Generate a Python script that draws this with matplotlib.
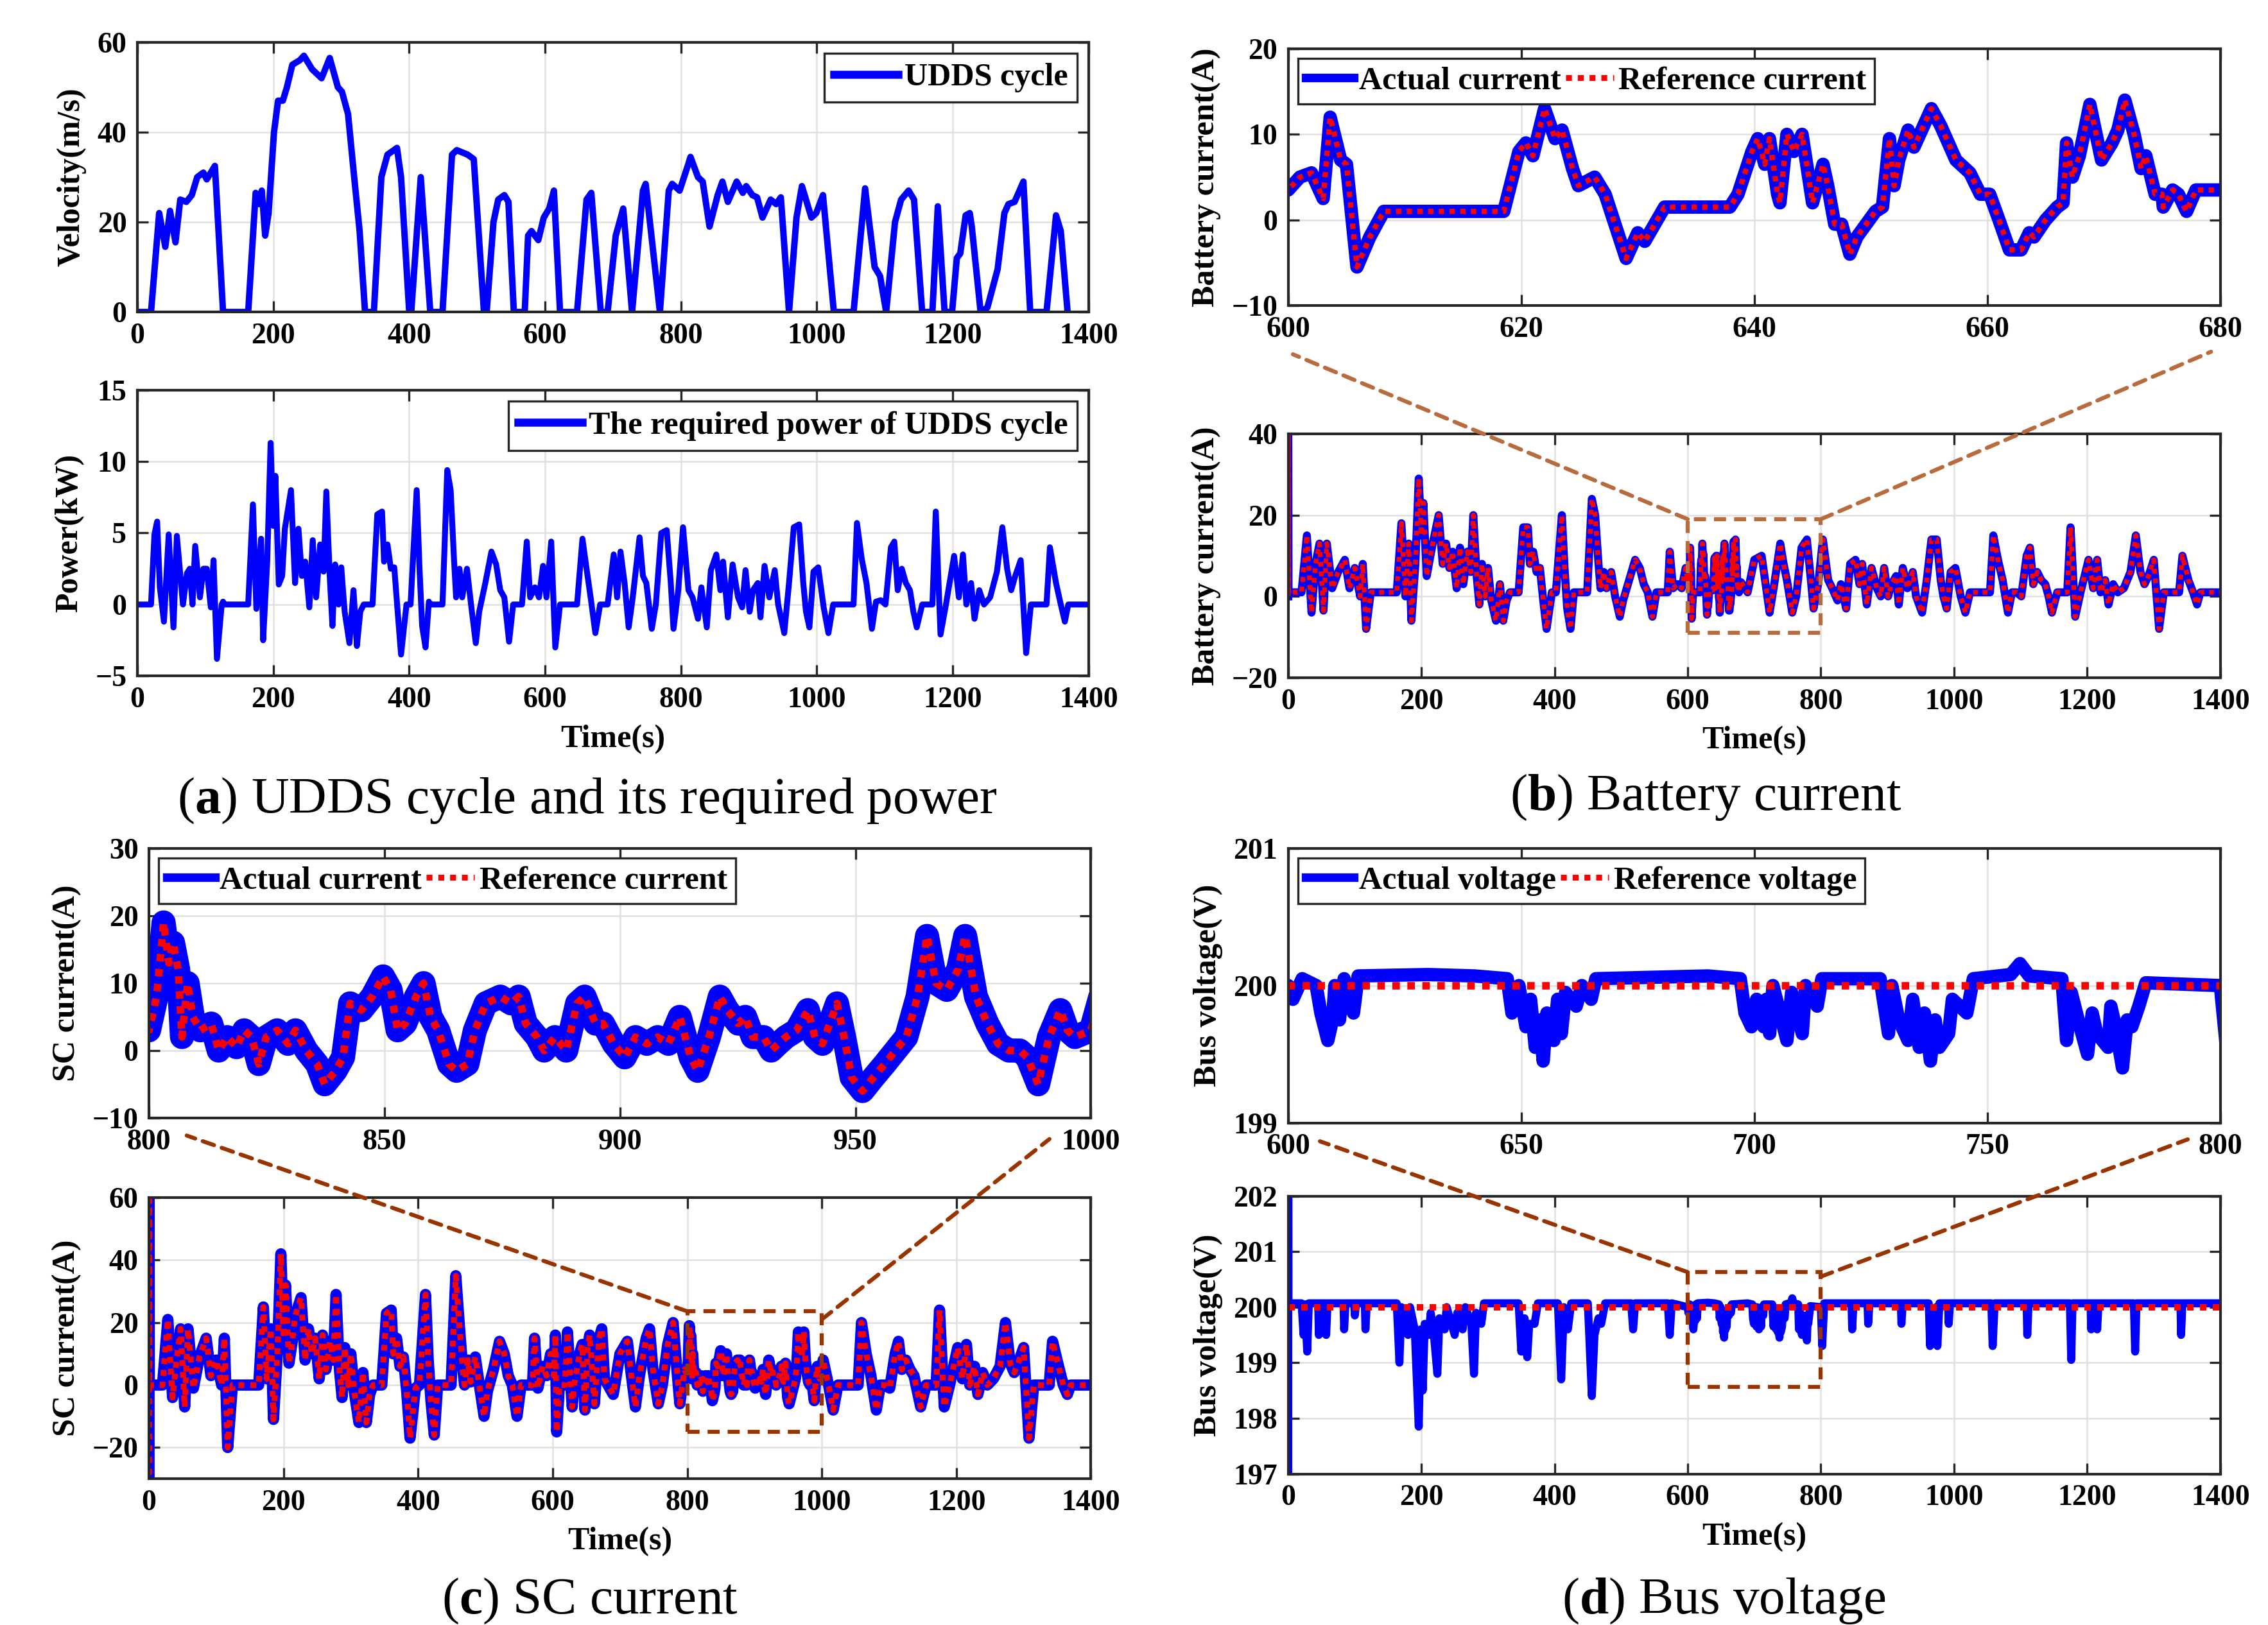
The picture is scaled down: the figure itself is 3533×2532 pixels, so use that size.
import matplotlib
matplotlib.use("Agg")
import matplotlib.pyplot as plt
from matplotlib.patches import ConnectionPatch, Rectangle
from matplotlib.lines import Line2D

plt.rcParams['font.family'] = ['Liberation Serif', 'DejaVu Serif']
plt.rcParams['mathtext.fontset'] = 'custom'
plt.rcParams['mathtext.rm'] = 'Liberation Serif'
plt.rcParams['mathtext.bf'] = 'Liberation Serif:bold'

# ---------------- data ----------------
VELOCITY = [(0,0),(20,0),(32,22),(41,14.5),(48,22.5),(56,15.5),(63,25),(72,24.5),(80,26),(88,30),(97,31),
    (102,29.5),(108,31),(114,32.5),(126,0),(163,0),(174,26.5),(179,24),(183,27),(188,17),(193,22),(201,40),
    (207,47),(214,47),(220,50),(228,55),(239,56),(245,57),(257,54),(271,52),(283,56.5),(295,50),(301,49),
    (310,44),(319,30),(327,18),(335,0),(348,0),(359,30),(368,35),(382,36.5),(388,30),(400,0),(403,0),
    (417,30),(431,0),(449,0),(463,35),(470,36),(486,35),(495,34),(510,0),(514,0),(524,20),(531,25),
    (540,26),(546,24.5),(554,0),(570,0),(575,17),(580,18),(590,16),(598,21),(606,23),(613,27),(622,0),
    (647,0),(661,25),(668,26.5),(682,0),(692,0),(704,17),(715,23),(728,0),(744,27),(748,28.5),(769,0),
    (782,27),(787,28.5),(798,27),(811,33),(814,34.5),(825,30),(832,29),(842,19),(854,26),(861,29),
    (869,24.5),(882,29),(891,26.5),(896,28),(905,26),(912,25.5),(920,21),(932,25),(940,24),(947,25.5),
    (959,0),(970,21),(978,28),(992,21),(999,22),(1009,26),(1025,0),(1054,0),(1071,27.5),(1085,10),
    (1093,8),(1102,0),(1115,20),(1124,25),(1135,27),(1143,25),(1155,0),(1170,0),(1178,23.5),(1188,0),
    (1199,0),(1206,12),(1211,13),(1219,21.5),(1225,22),(1228,19),(1241,0),(1251,1),(1266,9.5),(1276,22),
    (1282,24),(1291,24.5),(1304,29),(1314,0),(1338,0),(1352,21.5),(1359,18),(1369,0)]

POWER = [(0,0),(20,0),(25,4.9),(29,5.8),(33,1.2),(39,-1.2),(46,4.9),(53,-1.6),(58,4.8),(67,0),(73,2.2),
    (77,2.5),(81,0),(85,4.1),(92,0.5),(97,2.5),(102,2.5),(108,-0.2),(112,3.1),(117,-3.8),(124,0),(126,0.2),
    (128,0),(163,0),(170,7),(175,-0.3),(182,4.6),(185,-2.5),(191,3),(196,11.3),(200,5.5),(203,9),(208,1.4),
    (213,2),(217,5.3),(226,8),(232,1.5),(237,5.3),(242,2),(247,3),(253,-0.2),(258,4.5),(263,0.5),(269,4.2),
    (274,2.3),(278,7.9),(283,2),(287,-1.5),(291,2.8),(296,0),(300,2.6),(305,-0.5),(312,-2.7),(318,1),
    (323,-2.9),(328,-0.5),(333,0),(346,0),(353,6.3),(360,6.5),(363,3),(368,4.2),(373,2.5),(378,2.6),
    (383,-0.5),(388,-3.5),(396,0),(402,0),(411,8),(415,2.7),(419,-1.5),(424,-3),(429,0.2),(431,0),(449,0),
    (456,9.4),(461,8),(466,3.1),(469,0.5),(474,2.5),(478,0.5),(485,2.5),(491,0),(498,-2.7),(503,-0.5),
    (512,1.5),(521,3.7),(528,2.8),(534,1),(540,0.5),(547,-2.6),(553,0),(566,0),(573,4.4),(578,0.5),
    (585,1.2),(591,0.5),(597,2.7),(602,0.5),(609,4.4),(615,-3),(622,0),(647,0),(655,4.6),(661,2.5),
    (667,0.5),(674,-2),(681,0),(692,0),(701,3.5),(706,0.5),(711,3.7),(717,1.5),(723,-1.6),(729,0.5),
    (739,4.7),(744,2),(749,1.5),(757,-1.7),(763,0),(771,5),(779,5.2),(785,1.5),(789,-1.7),(796,1),
    (803,5.4),(811,1),(817,0.5),(825,-1),(830,1.2),(838,-1.6),(844,2.4),(852,3.5),(858,1),(862,3),
    (869,-0.9),(876,2.8),(884,0.5),(890,-0.2),(895,2.4),(901,-0.5),(906,1),(913,1.5),(917,-0.9),(923,2.7),
    (930,0.5),(938,2.4),(943,0),(952,-2),(959,1.5),(966,5.4),(974,5.6),(980,1.5),(984,-0.5),(989,-1.6),
    (995,2.3),(1002,2.6),(1010,-0.2),(1017,-2),(1024,0),(1054,0),(1059,5.7),(1066,3.2),(1073,1.5),
    (1081,-1.7),(1087,0.2),(1094,0.3),(1101,0),(1109,4),(1114,4.4),(1119,1),(1125,2.5),(1131,1.5),
    (1137,1),(1142,-0.5),(1147,-1.6),(1155,0),(1170,0),(1175,6.5),(1182,-2.1),(1190,0),(1202,3.4),
    (1209,0.5),(1215,3.5),(1220,0),(1227,1.5),(1232,-1),(1239,1),(1246,0),(1255,0.5),(1265,2.3),
    (1273,5.4),(1280,2.5),(1286,1),(1292,2),(1300,3.1),(1308,-3.4),(1315,0),(1338,0),(1343,4),
    (1352,1.5),(1359,0),(1365,-1.2),(1370,0),(1400,0)]

BATTERY = [(0,0),(0,45),(0.5,1),(20,1),(28,15),(35,-4),(41,8),(47,13),(53,-3.5),(58,13),(66,2),(75,6),
    (85,9),(92,2),(100,7),(108,0),(112,8),(117,-8),(124,1),(163,1),(170,18),(176,0),(181,13),(185,-6),
    (191,8),(196,29),(200,15),(203,23),(208,5),(217,13),(226,20),(232,8),(237,13),(242,7),(247,11),(253,2),
    (258,12),(263,3),(269,11),(274,6),(278,20),(283,5),(287,-2),(291,8),(296,0),(300,7),(305,-1),(312,-6),
    (318,3),(323,-6),(328,-1),(333,1),(346,1),(353,17),(360,17),(363,8),(368,11),(373,6),(378,7),(383,-1),
    (388,-8),(396,1),(402,1),(411,20),(415,7),(419,-3),(424,-8),(429,1),(449,1),(456,24),(461,20),(466,8),
    (469,2),(474,6),(478,2),(485,6),(491,0),(498,-5),(503,-1),(512,4),(521,9),(528,7),(534,3),(540,1),
    (547,-5),(553,1),(570,1),(573,11),(578,2),(585,3),(591,2),(597,7),
    (600,3.5),(601,5),(602,5.5),(603,2.5),(603.6,12),(604.5,7),(605,6.5),(605.9,-5.5),(607,-2),(608.2,1),
    (618.5,1),(619.8,8),(620.4,9),(621,7.5),(622,13),(622.9,9.5),(623.5,10.5),(624.4,6),(624.9,4),
    (626.3,5),(627.2,3),(629,-4.5),(630,-1.5),(630.6,-2.5),(632.3,1.5),(637.9,1.5),(638.6,3),(639.8,8),
    (640.3,9.5),(640.9,6.5),(641.3,9.5),(642,3),(642.2,2),(642.8,10),(643.4,8),(644.1,10),(645,2),
    (645.9,6.5),(646.3,4),(646.9,-0.5),(647.5,-0.5),(648.2,-4),(648.8,-2),(650.4,1),(651,1.5),(651.6,9.5),
    (652,4),(652.4,7),(653.2,10.5),(653.7,8.5),(655.2,13),(656,11),(657.3,7),(658.5,5.5),(659.4,3),
    (660.2,3),(661,0),(661.9,-3.5),(662.9,-3.5),(663.6,-1.5),(664,-2),(665,0),(666,1.5),(666.5,2),
    (666.8,9),(667.3,5),(667.9,7.5),(668.8,13.5),(669.8,7),(670.7,9),(671.2,10.5),(671.8,14),(672.6,10),
    (673.2,6),(673.6,7.5),(674.4,3),(675,3),(675.1,1.5),(675.9,3.5),(676.4,3),(677.1,1),(677.9,3.5),
    (680,3.5),(690,1),(700,9),(711,10),(717,3),(723,-4),(729,2),(739,13),(744,8),(749,4),(757,-4),(763,0),
    (771,12),(779,14),(785,4),(789,-3),(796,3),(803,14),(811,4),(817,2),(825,-1),(830,3),(838,-3),(844,8),
    (852,9),(858,3),(862,8),(869,-2),(876,7),(884,2),(890,0),(895,7),(901,0),(906,3),(913,5),(917,-2),
    (923,7),(930,2),(938,6),(943,0),(952,-4),(959,4),(966,14),(974,14),(980,4),(984,0),(989,-3),(995,6),
    (1002,7),(1010,0),(1017,-4),(1024,1),(1054,1),(1059,15),(1066,9),(1073,4),(1081,-4),(1087,1),(1094,1),
    (1101,0),(1109,10),(1114,12),(1119,3),(1125,6),(1131,4),(1137,3),(1142,0),(1147,-4),(1155,1),(1170,1),
    (1175,17),(1182,-5),(1190,1),(1202,9),(1209,2),(1215,9),(1220,1),(1227,4),(1232,-2),(1239,3),(1246,1),
    (1255,2),(1265,6),(1273,15),(1280,6),(1286,3),(1292,5),(1300,9),(1308,-8),(1315,1),(1338,1),(1343,10),
    (1352,4),(1359,1),(1365,-2),(1370,1),(1400,1)]

SC = [(0,-40),(0,80),(0.4,0),(20,0),(28,21),(35,-4),(41,8),(47,18),(53,-7),(58,18),(66,-1),(75,9),(85,15),
    (92,3),(100,8),(108,0),(112,15),(117,-20),(124,0),(163,0),(170,25),(175,2),(181,18),(185,-11),(191,11),
    (196,42),(200,15),(203,32),(208,7),(213,14),(217,22),(226,28),(232,8),(237,18),(242,10),(247,15),(253,2),
    (258,16),(263,5),(269,14),(274,8),(278,29),(283,5),(287,-4),(291,12),(296,0),(300,10),(305,-2),(312,-12),
    (318,4),(323,-12),(328,-3),(333,0),(346,0),(353,23),(360,24),(363,10),(368,15),(373,6),(378,9),(383,-2),
    (388,-17),(396,-1),(402,0),(411,29),(415,8),(419,-5),(424,-16),(429,0),(449,0),(456,35),(461,20),(466,6),
    (469,0),(474,8),(478,1),(485,9),(491,0),(498,-10),(503,-2),(512,5),(521,14),(528,10),(534,3),(540,0),
    (547,-10),(553,0),(570,0),(573,15),(578,-1),(585,6),(591,3),(597,10),(602,3),(604,16),(606,-15),(610,0),
    (618,0),(622,17),(629,-7),(632,0),(640,10),(644,13),(648,-8),(652,12),(655,16),(662,-6),(669,15),
    (673,18),(677,2),(690,-3),(700,10),(711,14),(717,3),(723,-7),(729,3),(739,15),(744,18),(749,5),(757,-6),
    (763,0),(771,13),(779,20),(785,4),(789,-6),(796,5),
    (800,3),(801.6,8),(803.1,19),(804.2,13),(805.1,16),(806.2,12),(807,2),(808.2,10),(809.3,5),(810.9,3),
    (813.2,4),(814.8,0),(816.6,2),(818.6,0.5),(820.2,3),(821.8,2),(823.3,-2),(824.9,2),(827.2,3),(829.5,1),
    (831.1,3),(833.4,0),(835.7,-2),(837.3,-5),(839.6,-3),(841.2,-1),(842.7,7),(845.1,6),(847.4,8),
    (849.7,11),(851.3,9),(852.8,3),(854.4,4),(856.7,8),(858.3,10),(859.8,5),(861.4,3),(863.7,-2),
    (865.3,-3),(867.6,-2),(869.2,3),(871.5,7),(874.6,8),(876.9,7),(878.5,8),(880,4),(882.4,2),(883.9,0),
    (886.2,2),(888.6,0),(890.9,7),(892.5,8),(894.8,4),(896.4,4),(898.7,1),(901,-1),(903.3,2),(905.7,1),
    (908,2),(910.3,1),(912.7,5),(915,-1),(916.5,-3),(918.9,2),(921.2,8),(922.8,6),(925.1,4),(926.6,5),
    (928.2,2),(930.5,2),(932.1,0),(933.6,1),(935.2,2),(937.5,3),(939.9,6),(941.4,2),(943,1),(946.1,7),
    (947.6,2),(949.2,-4),(951.5,-6),(953.8,-4),(956.2,-2),(958.5,0),(960.8,2),(963.2,8),(965.2,17),
    (967.1,10),(969.4,9),(971.8,12),(973.3,17),(975.6,8),(978,4),(980.3,1),(982.6,0),(984.9,0),(986.5,-1),
    (988.8,-5),(991.1,2),(993.5,6),(995,3),(996.6,2),(1000,3),
    (1002,8),(1010,0),(1017,-8),(1024,0),(1054,0),(1059,20),(1066,10),(1073,3),(1081,-8),(1087,0),(1094,0),
    (1101,-1),(1109,10),(1114,14),(1119,5),(1125,8),(1131,5),(1137,3),(1142,-2),(1147,-7),(1155,0),(1170,0),
    (1175,24),(1182,-7),(1190,0),(1202,12),(1209,2),(1215,13),(1220,0),(1227,6),(1232,-3),(1239,4),(1246,0),
    (1255,2),(1265,6),(1273,20),(1280,7),(1286,4),(1292,7),(1300,12),(1308,-17),(1315,0),(1338,0),(1343,14),
    (1352,6),(1359,0),(1365,-3),(1370,0),(1400,0)]

VOLTAGE = [(0,190),(0,210),(0.4,200.07),(20,200.07),(23,199.5),(25,200.05),(28.5,199.2),(31,200.07),
    (45,200.07),(46,199.5),(48,200.07),(56,200.07),(57,199.5),(59,200.07),(83,200.07),(84,199.6),(86,200.07),
    (99,200.07),(100,199.85),(102,200.07),(115,200.07),(116,199.6),(118,200.07),(163,200.07),(167,199.0),
    (170,200.0),(175,199.6),(180,199.5),(183,200.0),(190,199.6),(196,197.85),(199,199.6),(202,198.5),
    (205,199.7),(211,199.5),(214,199.9),(218,199.6),(224,198.8),(227,199.8),(235,199.6),(238,200.0),
    (250,199.5),(254,199.9),(262,199.6),(266,200.0),(275,199.7),(279,198.8),(282,199.9),(290,199.7),
    (294,200.07),(346,200.07),(350,199.2),(355,199.8),(359,199.1),(362,199.7),(370,199.7),(375,200.07),
    (405,200.07),(410,198.7),(414,200.0),(420,199.6),(425,200.07),(450,200.07),(456,198.4),(460,199.5),
    (466,199.8),(470,199.7),(476,200.07),(515,200.07),(518,199.6),(521,200.07),(570,200.07),(573,199.5),
    (576,200.07),
    (600,200.0),(601,199.9),(603,200.05),(606,200.0),(607,199.8),(608.5,199.6),(609.5,199.75),(610,200.0),
    (611,199.75),(612,200.05),(614,199.8),(615,200.07),(630,200.08),(640,200.07),(647,200.05),(648,199.8),
    (649.5,200.0),(651,199.7),(652,199.9),(653,199.55),(654,199.75),(654.7,199.45),(655.5,199.8),
    (657,199.6),(657.8,199.9),(658.6,199.65),(659.5,199.95),(661.8,199.85),(663,200.0),(665,199.9),
    (666,200.05),(690,200.07),(697,200.05),(698,199.8),(699.4,199.7),(700.5,199.9),(702,199.7),
    (702.6,199.9),(703.3,199.65),(704,200.0),(707,199.6),(708,199.95),(710.3,199.65),(711,200.0),
    (713.5,199.85),(714.5,200.05),(727,200.05),(728.8,199.65),(729.5,200.0),(731,199.75),(733,199.6),
    (734,199.9),(735.4,199.55),(736.5,199.8),(737.8,199.45),(738.8,199.75),(739.7,199.55),(741.7,199.65),
    (742.5,199.9),(745.6,199.8),(747,200.05),(755,200.08),(757,200.16),(759,200.07),(766,200.05),(767,199.6),
    (768,199.95),(769.5,199.75),(771.5,199.5),(772.5,199.8),(773.5,199.65),(775.9,199.55),(776.5,199.85),
    (777.5,199.7),(779,199.4),(780,199.75),(781,199.7),(782.5,199.85),(784,200.02),(800,200.0),
    (802,199.3),(805,200.07),(846,200.07),(847,199.6),(849,200.07),(870,200.07),(871,199.7),(873,200.07),
    (920,200.07),(921,199.7),(923,200.07),(962,200.07),(964,199.3),(967,199.9),(973,200.0),(975,199.3),
    (978,200.07),(991,200.07),(992,199.7),(994,200.07),(1056,200.07),(1058,199.3),(1061,200.07),
    (1109,200.07),(1110,199.5),(1112,200.07),(1174,200.07),(1176,199.05),(1178,200.07),(1205,200.07),
    (1206,199.6),(1208,200.07),(1214,200.07),(1215,199.6),(1217,200.07),(1270,200.07),(1272,199.2),
    (1274,200.07),(1340,200.07),(1341,199.5),(1343,200.07),(1400,200.07)]

VOLT_REF = [(0,200),(1400,200)]

def split(pairs):
    return [p[0] for p in pairs], [p[1] for p in pairs]

vt, vv = split(VELOCITY)
pt, pv = split(POWER)
bt, bv = split(BATTERY)
st, sv = split(SC)
ut, uv = split(VOLTAGE)
rt, rv = split(VOLT_REF)

# ---------------- figure ----------------
fig = plt.figure(figsize=(3533/300, 2532/300), dpi=300)
BLUE = '#0000ff'
RED = '#ff0000'
TICKFS = 11
LABFS = 12

def style(ax, xlim, ylim, xticks, yticks):
    ax.set_xlim(*xlim)
    ax.set_ylim(*ylim)
    ax.set_xticks(xticks)
    ax.set_yticks(yticks)
    ax.grid(True, color='#e0e0e0', lw=0.6)
    ax.set_axisbelow(True)
    ax.tick_params(direction='in', top=True, right=True, length=4, width=0.8,
                   labelsize=TICKFS, color='#262626', pad=4)
    for lab in ax.get_xticklabels() + ax.get_yticklabels():
        lab.set_fontweight('bold')
    for s in ax.spines.values():
        s.set_color('#262626')
        s.set_linewidth(1.0)

def leg2(ax, labels, loc):
    h = [Line2D([], [], color=BLUE, lw=3.2), Line2D([], [], color=RED, lw=2.2, ls=(0, (1, 1)))]
    lg = ax.legend(h, labels, loc=loc, ncol=2, fancybox=False, edgecolor='#262626',
                   framealpha=1, handlelength=1.5, handletextpad=0.15, columnspacing=0.15,
                   borderaxespad=0.3, borderpad=0.25, prop={'weight': 'bold', 'size': LABFS})
    lg.get_frame().set_linewidth(0.8)
    return lg

def leg1(ax, label):
    h = [Line2D([], [], color=BLUE, lw=3.0)]
    lg = ax.legend(h, [label], loc='upper right', fancybox=False, edgecolor='#262626', framealpha=1,
                   handlelength=2.0, handletextpad=0.2, borderaxespad=0.35, borderpad=0.3,
                   prop={'weight': 'bold', 'size': LABFS})
    lg.get_frame().set_linewidth(0.8)

# (a) top: velocity
axA1 = fig.add_axes([0.0606, 0.808, 0.4194, 0.166])
axA1.plot(vt, vv, color=BLUE, lw=2.4)
style(axA1, (0, 1400), (0, 60), range(0, 1401, 200), range(0, 61, 20))
axA1.set_ylabel('Velocity(m/s)', fontsize=LABFS, fontweight='bold')
leg1(axA1, 'UDDS cycle')

# (a) bottom: power
axA2 = fig.add_axes([0.0606, 0.584, 0.4194, 0.176])
axA2.plot(pt, pv, color=BLUE, lw=2.2)
style(axA2, (0, 1400), (-5, 15), range(0, 1401, 200), range(-5, 16, 5))
axA2.set_ylabel('Power(kW)', fontsize=LABFS, fontweight='bold')
axA2.set_xlabel('Time(s)', fontsize=LABFS, fontweight='bold')
leg1(axA2, 'The required power of UDDS cycle')

# (b) battery current
axB1 = fig.add_axes([0.568, 0.812, 0.411, 0.158])
axB1.plot(bt, bv, color=BLUE, lw=5.0, solid_joinstyle='round')
axB1.plot(bt, bv, color=RED, lw=2.0, ls=(0, (1, 1)))
style(axB1, (600, 680), (-10, 20), range(600, 681, 20), range(-10, 21, 10))
axB1.set_ylabel('Battery current(A)', fontsize=LABFS, fontweight='bold')
leg2(axB1, ['Actual current', 'Reference current'], 'upper left')

axB2 = fig.add_axes([0.568, 0.583, 0.411, 0.150])
axB2.plot(bt, bv, color=BLUE, lw=3.0, solid_joinstyle='round')
axB2.plot(bt, bv, color=RED, lw=1.8, ls=(0, (1, 1)))
style(axB2, (0, 1400), (-20, 40), range(0, 1401, 200), range(-20, 41, 20))
axB2.set_ylabel('Battery current(A)', fontsize=LABFS, fontweight='bold')
axB2.set_xlabel('Time(s)', fontsize=LABFS, fontweight='bold')

# (c) SC current
axC1 = fig.add_axes([0.0657, 0.312, 0.4153, 0.166])
axC1.plot(st, sv, color=BLUE, lw=9.0, solid_joinstyle='round')
axC1.plot(st, sv, color=RED, lw=2.8, ls=(0, (1, 1)))
style(axC1, (800, 1000), (-10, 30), range(800, 1001, 50), range(-10, 31, 10))
axC1.set_ylabel('SC current(A)', fontsize=LABFS, fontweight='bold')
leg2(axC1, ['Actual current', 'Reference current'], 'upper left')

axC2 = fig.add_axes([0.0657, 0.090, 0.4153, 0.173])
axC2.plot(st, sv, color=BLUE, lw=4.2, solid_joinstyle='round')
axC2.plot(st, sv, color=RED, lw=2.2, ls=(0, (1, 1)))
style(axC2, (0, 1400), (-30, 60), range(0, 1401, 200), range(-20, 61, 20))
axC2.set_ylabel('SC current(A)', fontsize=LABFS, fontweight='bold')
axC2.set_xlabel('Time(s)', fontsize=LABFS, fontweight='bold')

# (d) bus voltage
axD1 = fig.add_axes([0.568, 0.309, 0.411, 0.169])
axD1.plot(ut, uv, color=BLUE, lw=5.0, solid_joinstyle='round')
axD1.plot(rt, rv, color=RED, lw=2.8, ls=(0, (1, 1)))
style(axD1, (600, 800), (199, 201), range(600, 801, 50), [199, 200, 201])
axD1.set_ylabel('Bus voltage(V)', fontsize=LABFS, fontweight='bold')
leg2(axD1, ['Actual voltage', 'Reference voltage'], 'upper left')

axD2 = fig.add_axes([0.568, 0.093, 0.411, 0.171])
axD2.plot(ut, uv, color=BLUE, lw=3.0, solid_joinstyle='round')
axD2.plot(rt, rv, color=RED, lw=2.4, ls=(0, (1, 1)))
style(axD2, (0, 1400), (197, 202), range(0, 1401, 200), range(197, 203, 1))
axD2.set_ylabel('Bus voltage(V)', fontsize=LABFS, fontweight='bold')
axD2.set_xlabel('Time(s)', fontsize=LABFS, fontweight='bold')

# ---------------- zoom boxes and connectors ----------------
def zoom_box(ax_full, ax_zoom, x0, x1, y0, y1, color, pA, pB):
    ax_full.add_patch(Rectangle((x0, y0), x1 - x0, y1 - y0, fill=False, ec=color,
                                lw=1.5, ls=(0, (3, 2)), zorder=5))
    for (xa, ya), (xb, yb) in zip(pA, pB):
        con = ConnectionPatch(xyA=(xa, ya), coordsA='data', axesA=ax_full,
                              xyB=(xb, yb), coordsB='axes fraction', axesB=ax_zoom,
                              color=color, lw=1.5, ls=(0, (3, 2)))
        fig.add_artist(con)

zoom_box(axB2, axB1, 600, 800, -9, 19, '#b86b3c',
         [(600, 19), (800, 19)], [(0.005, -0.19), (0.99, -0.18)])
zoom_box(axC2, axC1, 800, 1000, -15, 23.6, '#993300',
         [(800, 23.6), (1000, 21)], [(0.04, -0.065), (0.956, -0.078)])
zoom_box(axD2, axD1, 600, 800, 198.57, 200.63, '#993300',
         [(600, 200.63), (800, 200.55)], [(0.034, -0.067), (0.965, -0.06)])

# ---------------- captions ----------------
CAPFS = 19.5
fig.text(0.259, 0.507, r'($\mathbf{a}$) UDDS cycle and its required power', ha='center', va='center', fontsize=CAPFS)
fig.text(0.752, 0.509, r'($\mathbf{b}$) Battery current', ha='center', va='center', fontsize=CAPFS)
fig.text(0.260, 0.0145, r'($\mathbf{c}$) SC current', ha='center', va='center', fontsize=CAPFS)
fig.text(0.760, 0.0145, r'($\mathbf{d}$) Bus voltage', ha='center', va='center', fontsize=CAPFS)

fig.savefig('out.png', dpi=300, facecolor='white')
